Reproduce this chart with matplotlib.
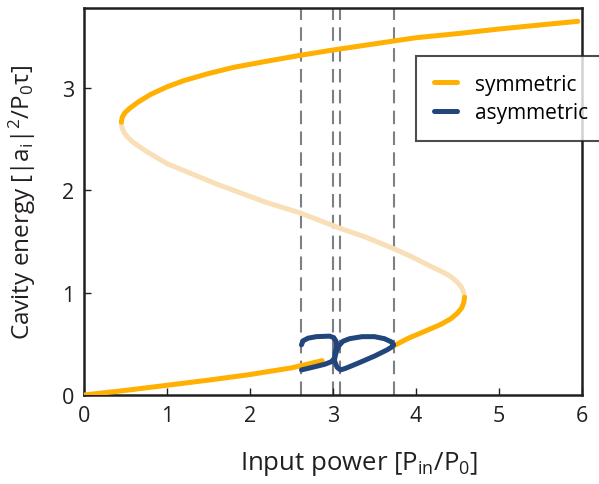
import matplotlib.pyplot as plt

plt.rcParams['font.family'] = ['Open Sans', 'DejaVu Sans']
plt.rcParams['mathtext.fontset'] = 'custom'
plt.rcParams['mathtext.rm'] = 'Open Sans'
plt.rcParams['mathtext.it'] = 'Open Sans'

# symmetric solution
low1_x = [0.0, 0.5, 1.0, 1.5, 2.0, 2.5, 2.87]
low1_y = [0.0, 0.045, 0.095, 0.145, 0.20, 0.265, 0.335]
low2_x = [3.73, 3.91, 4.10, 4.30, 4.42, 4.50, 4.55, 4.575, 4.585]
low2_y = [0.48, 0.555, 0.62, 0.69, 0.745, 0.80, 0.85, 0.90, 0.955]
mid_x = [4.585, 4.575, 4.55, 4.50, 4.43, 4.35, 4.17, 3.95, 3.73, 3.40, 3.08, 2.60,
         2.20, 1.60, 1.00, 0.75, 0.59, 0.53, 0.485, 0.46, 0.45]
mid_y = [0.955, 1.00, 1.05, 1.10, 1.15, 1.19, 1.26, 1.35, 1.43, 1.54, 1.63, 1.78,
         1.88, 2.06, 2.26, 2.38, 2.47, 2.515, 2.56, 2.61, 2.665]
up_x = [0.45, 0.46, 0.49, 0.55, 0.65, 0.80, 1.0, 1.2, 1.5, 1.8, 2.2, 2.62, 3.0,
        3.5, 4.0, 4.5, 5.0, 5.5, 5.95]
up_y = [2.665, 2.71, 2.755, 2.80, 2.86, 2.935, 3.01, 3.07, 3.14, 3.20, 3.26, 3.32,
        3.37, 3.43, 3.49, 3.53, 3.575, 3.615, 3.65]

# asymmetric solution (two cavities)
asA_x = [2.62, 2.64, 2.70, 2.80, 2.96, 3.01, 3.04, 3.04, 3.02, 3.02, 3.05, 3.09,
         3.15, 3.30, 3.50, 3.65, 3.71, 3.73]
asA_y = [0.49, 0.53, 0.555, 0.57, 0.575, 0.56, 0.52, 0.46, 0.40, 0.33, 0.27, 0.245,
         0.26, 0.31, 0.38, 0.44, 0.47, 0.49]
asB_x = [2.62, 2.75, 2.90, 2.98, 3.02, 3.04, 3.07, 3.12, 3.20, 3.35, 3.50, 3.62,
         3.70, 3.73]
asB_y = [0.245, 0.27, 0.30, 0.325, 0.36, 0.42, 0.48, 0.525, 0.55, 0.57, 0.57, 0.55,
         0.52, 0.49]

vlines = [2.62, 3.0, 3.08, 3.73]

orange = '#ffb000'
light = '#f9dfb8'
blue = '#22467c'

fig = plt.figure(figsize=(5.99, 4.85), dpi=100)
ax = fig.add_axes([0.1402, 0.1835, 0.8314, 0.7979])

for xv in vlines:
    ax.axvline(xv, color='#7b8084', lw=1.5, dashes=(6.5, 3.5), zorder=1)

kw = dict(lw=3.6, solid_capstyle='round', solid_joinstyle='round')
ax.plot(mid_x, mid_y, color=light, zorder=2, **kw)
ax.plot(low1_x, low1_y, color=orange, zorder=3, label='symmetric', **kw)
ax.plot(low2_x, low2_y, color=orange, zorder=3, **kw)
ax.plot(up_x, up_y, color=orange, zorder=3, **kw)
ax.plot(asA_x, asA_y, color=blue, zorder=4, label='asymmetric', **kw)
ax.plot(asB_x, asB_y, color=blue, zorder=4, **kw)

ax.set_xlim(0, 6)
ax.set_ylim(0, 3.78)
ax.set_xticks([0, 1, 2, 3, 4, 5, 6])
ax.set_yticks([0, 1, 2, 3])
ax.tick_params(direction='in', length=5, width=1, labelsize=15.5, colors='#231f20')
ax.tick_params(axis='x', pad=7)
ax.tick_params(axis='y', pad=7)
for s in ax.spines.values():
    s.set_linewidth(1.8)
    s.set_color('#231f20')

ax.set_xlabel(r'Input power [P$_\mathrm{in}$/P$_\mathrm{0}$]', fontsize=18.5,
              color='#231f20', labelpad=17)
ax.xaxis.label.set_x(0.553)
ax.set_ylabel(r'Cavity energy [|a$_\mathrm{i}$|$^\mathrm{2}$/P$_\mathrm{0}$τ]',
              fontsize=17.5, color='#231f20', labelpad=17)

leg = fig.legend(loc='upper left', bbox_to_anchor=(416 / 599, 1 - 57 / 485),
                 fontsize=15, handlelength=1.1, frameon=True, fancybox=False,
                 borderpad=0.85, labelspacing=0.35, borderaxespad=0,
                 handletextpad=0.9)
leg.get_frame().set_edgecolor('#231f20')
leg.get_frame().set_linewidth(1.5)

fig.savefig('out.png', dpi=100)
